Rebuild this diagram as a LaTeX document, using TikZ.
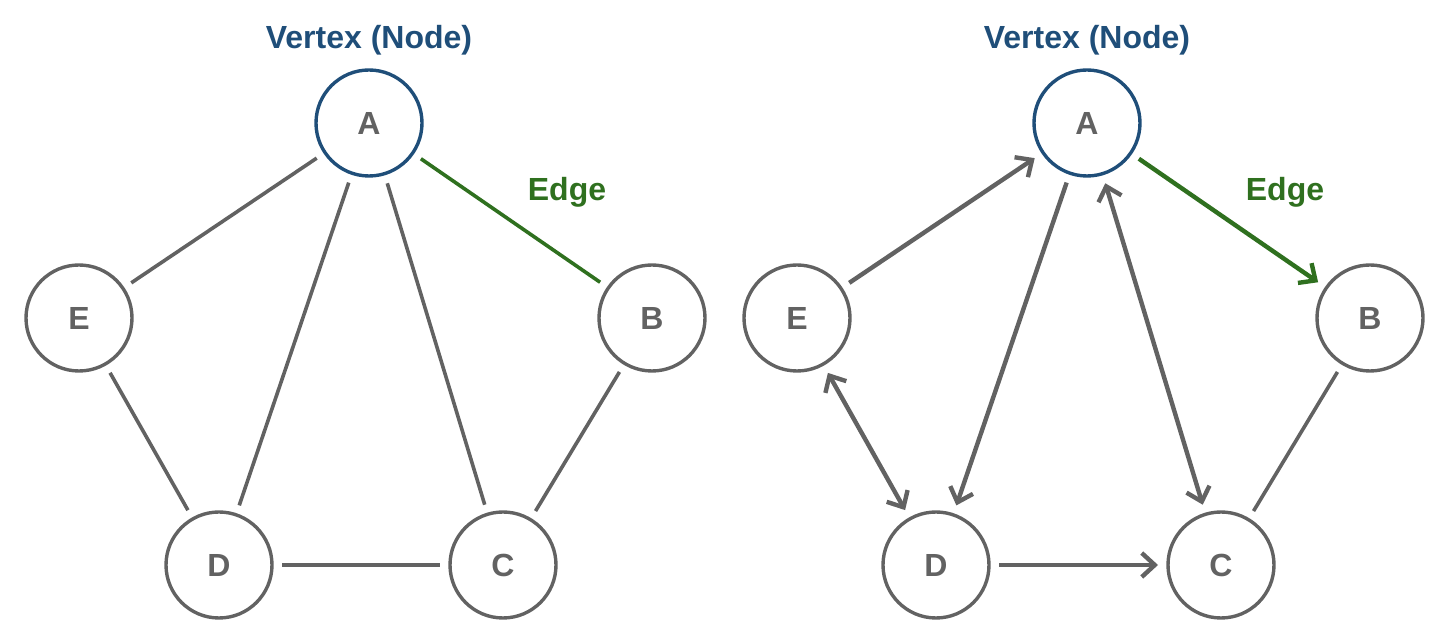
\documentclass[tikz,border=0pt]{standalone}
\usepackage{fontspec}
\setmainfont{Liberation Sans}
\usetikzlibrary{arrows.meta}

\definecolor{vblue}{HTML}{1F4E79}
\definecolor{egreen}{HTML}{2F701F}
\definecolor{lgray}{HTML}{626262}

\begin{document}
\begin{tikzpicture}[x=0.5pt, y=-0.5pt,
    vertex/.style={circle, draw=lgray, line width=1.7pt, minimum size=53pt,
                   inner sep=0pt, outer sep=5pt, text=lgray,
                   font=\fontsize{16}{18}\selectfont\bfseries},
    root/.style={vertex, draw=vblue},
    link/.style={draw=lgray, line width=1.8pt},
    arc/.style={draw=lgray, line width=2.2pt},
    tip/.style={-{Straight Barb[length=6.5pt,width=12pt]}},
    tips/.style={{Straight Barb[length=6.5pt,width=12pt]}-{Straight Barb[length=6.5pt,width=12pt]}},
    caption/.style={font=\fontsize{16}{18}\selectfont\bfseries}]

\useasboundingbox (0,0) rectangle (1452,640);

%% vertices (undirected)
\node[root]   (a1) at (369,123) {A};
\node[vertex] (b1) at (652,318) {B};
\node[vertex] (c1) at (503,565) {C};
\node[vertex] (d1) at (219,565) {D};
\node[vertex] (e1) at (79,318)  {E};

%% vertices (directed)
\node[root]   (a2) at (1087,123) {A};
\node[vertex] (b2) at (1370,318) {B};
\node[vertex] (c2) at (1221,565) {C};
\node[vertex] (d2) at (936,565)  {D};
\node[vertex] (e2) at (797,318)  {E};

%% labels
\node[caption, text=vblue]  (v1) at (369,40)  {Vertex (Node)};
\node[caption, text=egreen] (g1) at (567,192) {Edge};
\node[caption, text=vblue]  (v2) at (1087,40) {Vertex (Node)};
\node[caption, text=egreen] (g2) at (1285,192) {Edge};

%%% edges (undirected)
\draw[link] (a1) -- (e1);   %% ae
\draw[link] (a1) -- (d1);   %% ad
\draw[link] (a1) -- (c1);   %% ac
\draw[link, draw=egreen] (a1) -- (b1);   %% ab
\draw[link] (e1) -- (d1);   %% ed
\draw[link] (d1) -- (c1);   %% dc
\draw[link] (c1) -- (b1);   %% cb

%%% edges (directed)
\draw[arc, tip]  (e2) -- (a2);   %% ea
\draw[arc, tip]  (a2) -- (d2);   %% ad
\draw[arc, tips] (a2) -- (c2);   %% ac
\draw[arc, tip, draw=egreen] (a2) -- (b2);   %% ab
\draw[arc, tips] (e2) -- (d2);   %% ed
\draw[arc, tip]  (d2) -- (c2);   %% dc
\draw[link] (b2) -- (c2);        %% bc
\end{tikzpicture}
\end{document}
